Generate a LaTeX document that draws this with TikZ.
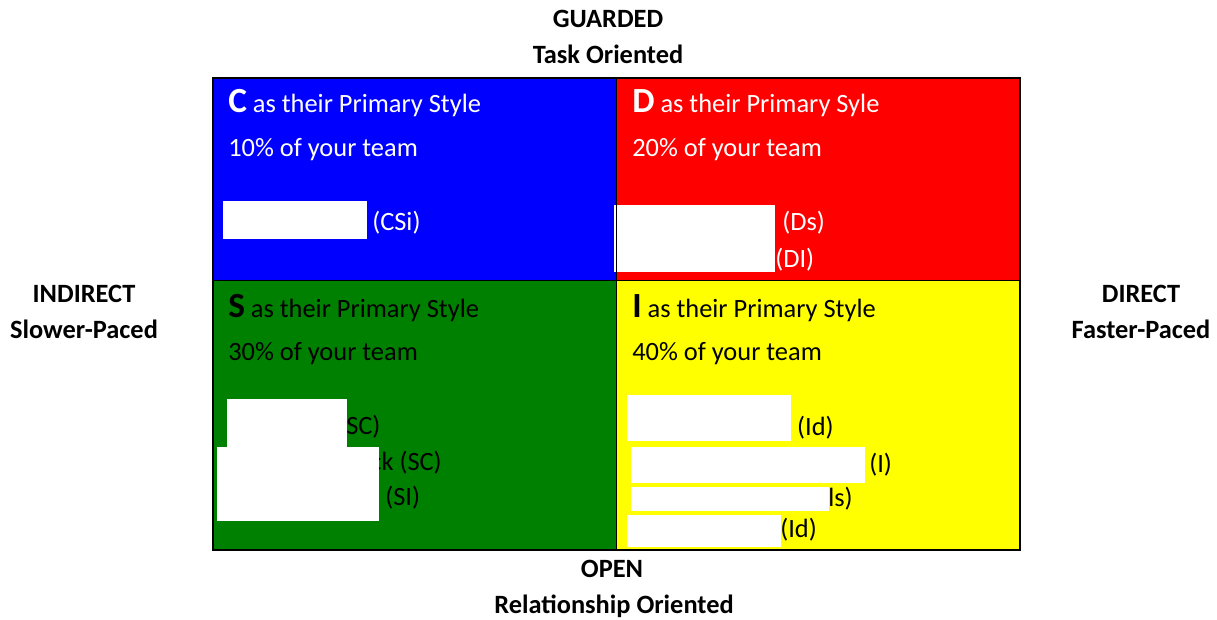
\documentclass[tikz,border=0pt]{standalone}
\usepackage{fontspec}
\setmainfont{Carlito}
\definecolor{discblue}{RGB}{0,0,255}
\definecolor{discred}{RGB}{255,0,0}
\definecolor{discgreen}{RGB}{0,128,0}
\definecolor{discyellow}{RGB}{255,255,0}
\tikzset{
  axislabel/.style={anchor=base, inner sep=0pt, font=\fontsize{19.8}{22}\selectfont\bfseries},
  quadtext/.style={anchor=base west, inner sep=0pt, font=\fontsize{19.8}{23}\selectfont},
  mask/.style={fill=white, draw=none}
}
\newcommand{\bigletter}[1]{{\fontsize{26.5}{29}\selectfont\bfseries #1}}
\begin{document}
\begin{tikzpicture}[x=0.75pt, y=-0.75pt]
\useasboundingbox (0,0) rectangle (1217,620);
% quadrants
\fill[discblue]   (213,78)  rectangle (616,281);
\fill[discred]    (616,78)  rectangle (1020,281);
\fill[discgreen]  (213,281) rectangle (616,550);
\fill[discyellow] (616,281) rectangle (1020,550);
% axis labels
\node[axislabel] (guarded) at (608,28)  {GUARDED};
\node[axislabel] (task)    at (608,64)  {Task Oriented};
\node[axislabel] (indirect) at (84,302) {INDIRECT};
\node[axislabel] (slower)   at (84,338) {Slower-Paced};
\node[axislabel] (direct)   at (1141,302) {DIRECT};
\node[axislabel] (faster)   at (1141,338) {Faster-Paced};
\node[axislabel] (open)     at (612,577) {OPEN};
\node[axislabel] (relation) at (614,613) {Relationship Oriented};
% C quadrant
\node[quadtext, white] (ctitle) at (228,113) {\bigletter{C} as their Primary Style};
\node[quadtext, white] (cshare) at (228,157) {10\% of your team};
\node[quadtext, white] (csi)    at (372,231) {(CSi)};
% D quadrant
\node[quadtext, white] (dtitle) at (632,113) {\bigletter{D} as their Primary Syle};
\node[quadtext, white] (dshare) at (632,157) {20\% of your team};
\node[quadtext, white] (ds)     at (782,231) {(Ds)};
\node[quadtext, white] (ddi)    at (775,268) {(DI)};
% S quadrant
\node[quadtext] (stitle) at (228,317) {\bigletter{S} as their Primary Style};
\node[quadtext] (sshare) at (228,360) {30\% of your team};
\node[quadtext] (ssc)    at (346,434) {SC)};
\node[quadtext, anchor=base east] (ssck) at (442,470) {ck (SC)};
\node[quadtext] (ssi)    at (385,505) {(SI)};
% I quadrant
\node[quadtext] (ititle) at (632,317) {\bigletter{I} as their Primary Style};
\node[quadtext] (ishare) at (632,360) {40\% of your team};
\node[quadtext, anchor=base east] (iid)  at (834,435) {s (Id)};
\node[quadtext] (ii)     at (869,472) {(I)};
\node[quadtext, anchor=base east] (ils)  at (853,506) {ls)};
\node[quadtext] (iid2)   at (780,537) {(Id)};
% white masks
\fill[mask] (223,201) rectangle (367,239);
\fill[mask] (614,205) rectangle (775,272);
\fill[mask] (227,399) rectangle (347,447);
\fill[mask] (217,447) rectangle (379,521);
\fill[mask] (627,395) rectangle (791,441);
\fill[mask] (631,447) rectangle (865,483);
\fill[mask] (631,487) rectangle (829,511);
\fill[mask] (627,515) rectangle (781,547);
% frame
\draw[line width=1.5pt] (213,78) rectangle (1020,550);
\draw[line width=0.75pt] (616,78) -- (616,550);
\draw[line width=0.75pt] (213,281) -- (1020,281);
\end{tikzpicture}
\end{document}
